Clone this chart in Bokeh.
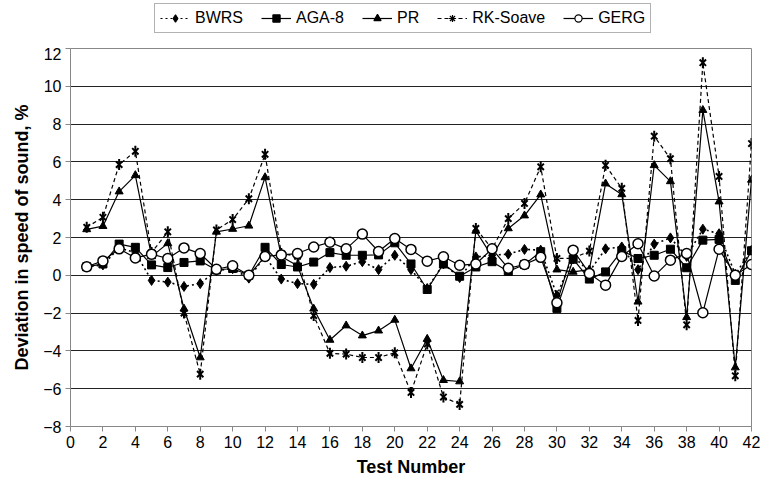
import math
from bokeh.plotting import figure
from bokeh.layouts import column
from bokeh.models import Range1d, FixedTicker, Legend, LegendItem
from bokeh.embed import file_html
from bokeh.resources import INLINE

tests = list(range(1, 43))

bwrs = [0.45, 0.55, 1.45, 1.2, -0.27, -0.36, -0.59, -0.44, 0.25, 0.35,
        -0.15, 1.0, -0.2, -0.44, -0.48, 0.41, 0.48, 0.72, 0.3, 1.06,
        0.3, -0.7, 0.6, -0.12, 0.97, 1.06, 1.12, 1.37, 1.33, -1.06,
        1.0, 0.2, 1.4, 1.5, 0.3, 1.65, 1.98, 1.0, 2.44, 2.2,
        0.05, 1.33]
aga8 = [0.45, 0.6, 1.65, 1.48, 0.55, 0.41, 0.68, 0.76, 0.28, 0.36,
        0.0, 1.48, 0.57, 0.44, 0.7, 1.2, 1.06, 1.06, 1.08, 1.72,
        0.6, -0.75, 0.6, -0.05, 0.44, 0.72, 0.2, 0.57, 1.25, -1.75,
        0.85, -0.2, 0.18, 1.3, 0.89, 1.06, 1.38, 0.4, 1.86, 1.9,
        -0.27, 1.3]
pr = [2.43, 2.6, 4.43, 5.29, 1.0, 1.69, -1.77, -4.35, 2.3, 2.45,
      2.62, 5.18, 1.0, 0.5, -1.77, -3.42, -2.66, -3.19, -2.93, -2.36,
      -4.93, -3.37, -5.55, -5.62, 2.35, 1.0, 2.48, 3.16, 4.27, 0.3,
      0.18, 0.3, 4.85, 4.28, -1.4, 5.82, 4.97, -2.22, 8.74, 3.9,
      -4.88, 5.05]
rk_soave = [2.54, 3.07, 5.86, 6.56, 1.2, 2.3, -2.0, -5.23, 2.4, 2.95,
            4.05, 6.4, 1.15, 1.0, -2.13, -4.13, -4.17, -4.35, -4.35, -4.1,
            -6.2, -3.63, -6.44, -6.83, 2.48, 1.4, 3.0, 3.8, 5.74, 0.89,
            0.9, 1.28, 5.82, 4.6, -2.39, 7.36, 6.17, -2.62, 11.25, 5.23,
            -5.32, 6.97]
gerg = [0.45, 0.76, 1.4, 0.92, 1.12, 0.89, 1.45, 1.15, 0.32, 0.5,
        0.0, 1.0, 1.08, 1.15, 1.5, 1.75, 1.4, 2.18, 1.26, 1.95,
        1.37, 0.75, 0.98, 0.53, 0.6, 1.4, 0.37, 0.57, 0.95, -1.45,
        1.33, 0.1, -0.52, 1.0, 1.67, -0.04, 0.8, 1.15, -1.98, 1.38,
        0.0, 0.57]

series_names = ["BWRS", "AGA-8", "PR", "RK-Soave", "GERG"]
series_values = [bwrs, aga8, pr, rk_soave, gerg]
x_ticks = list(range(0, 43, 2))
y_ticks = list(range(-8, 13, 2))

FONT = "Liberation Sans"

# ---------------- main chart ----------------
p = figure(width=762, height=439, output_backend="svg", toolbar_location=None,
           x_range=Range1d(0, 42), y_range=Range1d(-8, 12),
           min_border_left=70, min_border_right=11,
           min_border_top=1, min_border_bottom=60)

p.background_fill_color = "white"
p.border_fill_color = "white"
p.outline_line_color = "#888888"
p.outline_line_width = 1

p.xgrid.visible = False
p.ygrid.ticker = FixedTicker(ticks=y_ticks)
p.ygrid.grid_line_color = "#222222"
p.ygrid.grid_line_width = 1

p.xaxis.ticker = FixedTicker(ticks=x_ticks)
p.yaxis.ticker = FixedTicker(ticks=y_ticks)
for ax in (p.xaxis[0], p.yaxis[0]):
    ax.axis_line_color = "#888888"
    ax.major_tick_line_color = "#888888"
    ax.major_tick_out = 5
    ax.major_tick_in = 0
    ax.minor_tick_line_color = None
    ax.major_label_text_font = FONT
    ax.major_label_text_font_size = "16px"
    ax.major_label_text_color = "black"
    ax.axis_label_text_font = FONT
    ax.axis_label_text_font_size = "18px"
    ax.axis_label_text_font_style = "bold"
    ax.axis_label_text_color = "black"

p.xaxis.axis_label = "Test Number"
p.yaxis.axis_label = "Deviation in speed of sound, %"
p.xaxis.major_label_standoff = 4
p.yaxis.major_label_standoff = 4
p.xaxis.axis_label_standoff = 6
p.yaxis.axis_label_standoff = 8

p.line(tests, bwrs, line_color="black", line_width=1.6, line_dash="2 3")
p.scatter(tests, bwrs, marker="diamond", size=10, fill_color="black", line_color="black")

p.line(tests, aga8, line_color="black", line_width=1.2)
p.scatter(tests, aga8, marker="square", size=8, fill_color="black", line_color="black")

p.line(tests, pr, line_color="black", line_width=1.2)
p.scatter(tests, pr, marker="triangle", size=8, fill_color="black", line_color="black")

p.line(tests, rk_soave, line_color="black", line_width=1.2, line_dash="4 3")
p.scatter(tests, rk_soave, marker="x", size=9, line_color="black", line_width=2)
p.scatter(tests, rk_soave, marker="dash", size=11, angle=math.pi / 2,
          line_color="black", line_width=2)

p.line(tests, gerg, line_color="black", line_width=1.2)
p.scatter(tests, gerg, marker="circle", size=10, fill_color="white",
          line_color="black", line_width=1.5)

# ---------------- legend strip (series drawn off-view, only the key shows) ----------------
lg = figure(width=762, height=47, output_backend="svg", toolbar_location=None,
            x_range=Range1d(1000, 1001), y_range=Range1d(1000, 1001),
            x_axis_location=None, y_axis_location=None,
            min_border_left=0, min_border_right=0,
            min_border_top=0, min_border_bottom=0)
lg.grid.visible = False
lg.outline_line_color = None
lg.border_fill_color = "white"
lg.background_fill_color = "white"

styles = [
    dict(dash="2 3", marker="diamond", fill="black"),
    dict(dash="solid", marker="square", fill="black"),
    dict(dash="solid", marker="triangle", fill="black"),
    dict(dash="4 3", marker="asterisk", fill="black"),
    dict(dash="solid", marker="circle", fill="white"),
]
items = []
for name, vals, st in zip(series_names, series_values, styles):
    lr = lg.line(tests, vals, line_color="black", line_width=1.2, line_dash=st["dash"])
    sr = lg.scatter(tests, vals, marker=st["marker"], size=7, fill_color=st["fill"],
                    line_color="black", line_width=1.2)
    items.append(LegendItem(label=name, renderers=[lr, sr]))

legend = Legend(items=items, orientation="horizontal", location=(84, 14))
legend.label_text_font = FONT
legend.label_text_font_size = "16px"
legend.label_text_color = "black"
legend.glyph_width = 30
legend.glyph_height = 18
legend.label_height = 18
legend.label_standoff = 5
legend.spacing = 18
legend.padding = 5
legend.margin = 0
legend.border_line_color = "#666666"
legend.border_line_width = 1
legend.background_fill_color = "white"
legend.background_fill_alpha = 1.0
lg.add_layout(legend, "center")

layout = column(lg, p, spacing=0)
open("out.html", "w").write(file_html(layout, INLINE))
